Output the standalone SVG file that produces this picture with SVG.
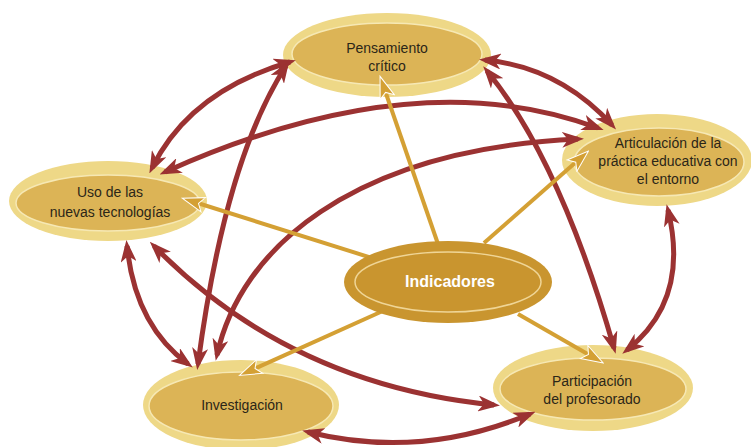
<svg xmlns="http://www.w3.org/2000/svg" width="751" height="447" viewBox="0 0 751 447">
<style>
.ring{fill:#eed887}
.core{fill:#dcb456;stroke:#f6e8b4;stroke-width:1.5}
.lbl{font-family:"Liberation Sans",Arial,sans-serif;font-size:14px;fill:#2b2618;text-anchor:middle}
.main{font-family:"Liberation Sans",Arial,sans-serif;font-size:16px;font-weight:bold;fill:#ffffff;text-anchor:middle}
.red{fill:none;stroke:#9b3232;stroke-width:5;marker-start:url(#ar);marker-end:url(#ar)}
.org{fill:none;stroke:#d4a034;stroke-width:4;marker-end:url(#ao)}
</style>
<defs>
<marker id="ar" viewBox="0 0 22 16" markerWidth="22" markerHeight="16" refX="16" refY="8" orient="auto-start-reverse" markerUnits="userSpaceOnUse"><path d="M0,0 L22,8 L0,16 L6,8 z" fill="#9b3232"/></marker>
<marker id="ao" viewBox="-1 -1 24 18" markerWidth="24" markerHeight="18" refX="16" refY="8" orient="auto" markerUnits="userSpaceOnUse"><path d="M0,0.5 L22,8 L0,15.5 L5,8 z" fill="#d4a034" stroke="#ffffff" stroke-width="1"/></marker>
</defs>
<rect width="751" height="447" fill="#ffffff"/>
<g id="pensamiento">
<ellipse class="ring" cx="387" cy="55" rx="104" ry="42"/>
<ellipse class="core" cx="387" cy="54" rx="95" ry="31"/>
<text class="lbl" x="387" y="53">Pensamiento</text>
<text class="lbl" x="387" y="71">crítico</text>
</g>
<g id="uso">
<ellipse class="ring" cx="108" cy="201" rx="99" ry="40"/>
<ellipse class="core" cx="108" cy="203" rx="92" ry="28"/>
<text class="lbl" x="110" y="197">Uso de las</text>
<text class="lbl" x="110" y="217">nuevas tecnologías</text>
</g>
<g id="articulacion">
<ellipse class="ring" cx="657" cy="160" rx="95" ry="46"/>
<ellipse class="core" cx="659" cy="162" rx="85" ry="34"/>
<text class="lbl" x="668" y="148">Articulación de la</text>
<text class="lbl" x="668" y="166">práctica educativa con</text>
<text class="lbl" x="668" y="184">el entorno</text>
</g>
<g id="investigacion">
<ellipse class="ring" cx="241" cy="405" rx="98" ry="45"/>
<ellipse class="core" cx="241" cy="406" rx="92" ry="34"/>
<text class="lbl" x="242" y="410">Investigación</text>
</g>
<g id="participacion">
<ellipse class="ring" cx="593" cy="388" rx="100" ry="43"/>
<ellipse class="core" cx="593" cy="389" rx="93" ry="31"/>
<text class="lbl" x="592" y="386">Participación</text>
<text class="lbl" x="592" y="404">del profesorado</text>
</g>
<g id="connectors">
<path class="red" d="M290,62 Q190,91 152,168"/>
<path class="red" d="M485,60 Q559,67 612,125"/>
<path class="red" d="M165,172 Q415,60 598,128"/>
<path class="red" d="M217,355 C240,250 350,150 578,139"/>
<path class="red" d="M286,66 Q225,160 198,364"/>
<path class="red" d="M127,246 Q135,325 188,364"/>
<path class="red" d="M154,246 Q290,385 494,405"/>
<path class="red" d="M487,71 Q560,160 614,348"/>
<path class="red" d="M668,210 Q690,300 627,350"/>
<path class="red" d="M308,432 Q420,460 530,414"/>
<path class="org" d="M438,244 L382,82"/>
<path class="org" d="M372,258 L188,200"/>
<path class="org" d="M484,243 L584,155"/>
<path class="org" d="M385,310 L245,373"/>
<path class="org" d="M518,314 L598,360"/>
</g>
<g id="indicadores">
<ellipse cx="448" cy="282" rx="104" ry="41" fill="#c9952f"/>
<ellipse cx="448" cy="282" rx="93" ry="30" fill="#c9952f" stroke="#efd596" stroke-width="1.5"/>
<text class="main" x="450" y="287">Indicadores</text>
</g>
</svg>
